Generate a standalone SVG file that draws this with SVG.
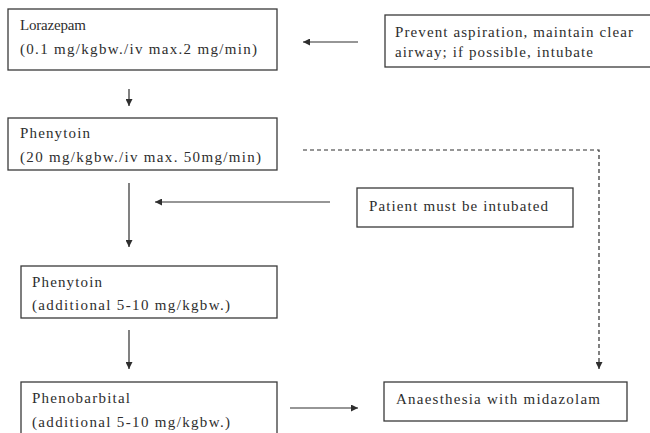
<svg xmlns="http://www.w3.org/2000/svg" width="650" height="433" viewBox="0 0 650 433">
<defs>
<style>
.box{fill:#fff;stroke:#3a3a3a;stroke-width:1.3}
.t{font-family:"Liberation Serif","DejaVu Serif",serif;font-size:15px;fill:#2e2e2e}
.c{stroke:#2e2e2e;stroke-width:1.2;fill:none}
.d{stroke:#2e2e2e;stroke-width:1.2;fill:none;stroke-dasharray:4 3}
</style>
<marker id="ah" viewBox="0 0 10 10" refX="10" refY="5" markerWidth="7" markerHeight="7" markerUnits="userSpaceOnUse" orient="auto">
<path d="M0,0 L10,5 L0,10 z" fill="#2e2e2e"/>
</marker>
</defs>
<rect width="650" height="433" fill="#fff"/>
<g id="connectors">
<line class="c" x1="129" y1="89" x2="129" y2="106" marker-end="url(#ah)"/>
<line class="c" x1="358" y1="42" x2="303" y2="42" marker-end="url(#ah)"/>
<line class="c" x1="129" y1="183" x2="129" y2="247" marker-end="url(#ah)"/>
<line class="c" x1="330" y1="202" x2="155" y2="202" marker-end="url(#ah)"/>
<line class="c" x1="129" y1="330" x2="129" y2="369" marker-end="url(#ah)"/>
<line class="c" x1="290" y1="408" x2="358" y2="408" marker-end="url(#ah)"/>
<polyline class="d" points="303,150 599,150 599,369" marker-end="url(#ah)"/>
</g>
<g id="lorazepam">
<rect class="box" x="8" y="9" width="269" height="61"/>
<text class="t" x="20" y="30" textLength="66" lengthAdjust="spacing">Lorazepam</text>
<text class="t" x="20" y="54" textLength="237" lengthAdjust="spacing">(0.1 mg/kgbw./iv max.2 mg/min)</text>
</g>
<g id="prevent">
<rect class="box" x="385" y="15" width="280" height="52"/>
<text class="t" x="395" y="37" textLength="238" lengthAdjust="spacing">Prevent aspiration, maintain clear</text>
<text class="t" x="395" y="57" textLength="198" lengthAdjust="spacing">airway; if possible, intubate</text>
</g>
<g id="phenytoin1">
<rect class="box" x="8" y="118" width="269" height="52"/>
<text class="t" x="20" y="138" textLength="70" lengthAdjust="spacing">Phenytoin</text>
<text class="t" x="20" y="162" textLength="241" lengthAdjust="spacing">(20 mg/kgbw./iv max. 50mg/min)</text>
</g>
<g id="intubated">
<rect class="box" x="357" y="188" width="216" height="39"/>
<text class="t" x="369" y="211" textLength="179" lengthAdjust="spacing">Patient must be intubated</text>
</g>
<g id="phenytoin2">
<rect class="box" x="21" y="266" width="256" height="52"/>
<text class="t" x="32" y="287" textLength="70" lengthAdjust="spacing">Phenytoin</text>
<text class="t" x="32" y="310" textLength="198" lengthAdjust="spacing">(additional 5-10 mg/kgbw.)</text>
</g>
<g id="phenobarbital">
<rect class="box" x="21" y="382" width="256" height="60"/>
<text class="t" x="32" y="403" textLength="98" lengthAdjust="spacing">Phenobarbital</text>
<text class="t" x="32" y="427" textLength="198" lengthAdjust="spacing">(additional 5-10 mg/kgbw.)</text>
</g>
<g id="anaesthesia">
<rect class="box" x="384" y="382" width="243" height="39"/>
<text class="t" x="396" y="404" textLength="204" lengthAdjust="spacing">Anaesthesia with midazolam</text>
</g>
</svg>
